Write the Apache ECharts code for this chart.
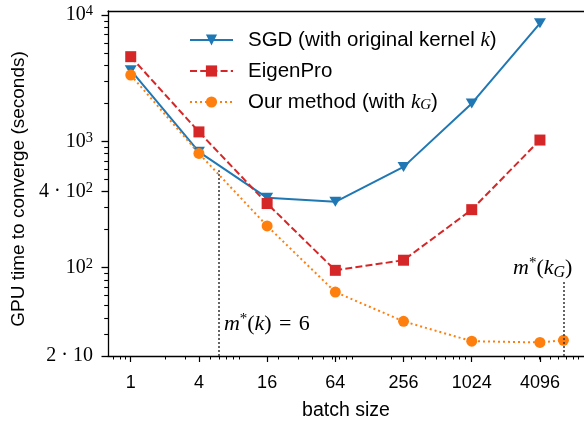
<!DOCTYPE html>
<html><head><meta charset="utf-8">
<script src="https://cdn.jsdelivr.net/npm/echarts@6/dist/echarts.min.js"></script>
<style>html,body{margin:0;padding:0;background:#fff}#c{width:584px;height:423px}</style>
</head><body><div id="c"></div>
<script>
// ---- data ----
const batchSizes = [1, 4, 16, 64, 256, 1024, 4096];
const sgdTimes = [3660, 826, 357, 332, 628, 1995, 8590];
const eigenproTimes = [4680, 1188, 322, 95.3, 114.6, 288, 1024];
const oursBatch = [1, 4, 16, 64, 256, 1024, 4096, 6600];
const oursTimes = [3350, 802, 214, 64.1, 37.6, 26.2, 25.6, 26.6];

const seriesNames = ['SGD', 'EigenPro', 'Ours'];
const legendLabels = ['SGD (with original kernel {k|k})', 'EigenPro', 'Our method (with {k|k}{g|G})'];

const xTickValues = [1, 4, 16, 64, 256, 1024, 4096];
const xTickLabels = ['1', '4', '16', '64', '256', '1024', '4096'];
const xMinorTicks = [0.7, 0.8, 0.9, 2, 3, 5, 6, 7, 8, 9, 20, 30, 40, 50, 60, 70, 80, 90,
  200, 300, 400, 500, 600, 700, 800, 900, 2000, 3000, 4000, 5000, 6000, 7000, 8000, 9000];
const yTickValues = [20, 100, 400, 1000, 10000];
const yTickLabels = ['2 · 10', '10^2', '4 · 10^2', '10^3', '10^4'];
const yMinorTicks = [30, 40, 50, 60, 70, 80, 90, 200, 300, 500, 600, 700, 800, 900,
  2000, 3000, 4000, 5000, 6000, 7000, 8000, 9000];

const mStarK = 6, mStarKTop = 590;       // m*(k) = 6
const mStarKG = 6600, mStarKGTop = 77;   // m*(k_G)
const annotK = [6, 35.5];
const annotKG = [6600, 99];

const X_MIN = 0.63, X_MAX = 10030, Y_MIN = 20, Y_MAX = 10760;

// ---- helpers ----
function zip(xs, ys) { return xs.map((x, i) => [x, ys[i]]); }
function nearestIdx(arr, v) {
  let best = -1, bd = Infinity;
  arr.forEach((a, i) => { const d = Math.abs(Math.log(a) - Math.log(v)); if (d < bd) { bd = d; best = i; } });
  return bd < 1e-3 ? best : -1;
}
function supRich(s) {
  const p = s.split('^');
  return p.length > 1 ? '{b|' + p[0] + '}{s|' + p[1] + '}' : '{b|' + p[0] + '}';
}
const serif = 'Liberation Serif';
const sans = 'Liberation Sans';
const mathRich = {
  m: { fontFamily: serif, fontStyle: 'italic', fontSize: 22, lineHeight: 26, color: '#000' },
  p: { fontFamily: serif, fontSize: 22, lineHeight: 26, color: '#000' },
  st: { fontFamily: serif, fontSize: 15, lineHeight: 15, verticalAlign: 'top', color: '#000' },
  g: { fontFamily: serif, fontStyle: 'italic', fontSize: 16, lineHeight: 16, verticalAlign: 'bottom', color: '#000' }
};

const chart = echarts.init(document.getElementById('c'), null, { renderer: 'canvas' });
const axisCommon = { type: 'log', logBase: 10, min: X_MIN, max: X_MAX };
const option = {
  animation: false,
  backgroundColor: '#fff',
  grid: { left: 108, right: 0, top: 11, bottom: 67, containLabel: false, outerBoundsMode: 'none' },
  legend: {
    data: seriesNames,
    orient: 'vertical', left: 184, top: 24,
    itemWidth: 43, itemHeight: 14, itemGap: 9,
    selectedMode: false,
    textStyle: {
      fontFamily: sans, fontSize: 20.5, color: '#000', lineHeight: 22, padding: [0, 0, 0, 10],
      rich: {
        k: { fontFamily: serif, fontStyle: 'italic', fontSize: 21, lineHeight: 22, color: '#000' },
        g: { fontFamily: serif, fontStyle: 'italic', fontSize: 15, lineHeight: 15, verticalAlign: 'bottom', color: '#000' }
      }
    },
    formatter: name => legendLabels[seriesNames.indexOf(name)]
  },
  xAxis: [
    Object.assign({}, axisCommon, {
      position: 'bottom',
      name: 'batch size', nameLocation: 'middle', nameGap: 45,
      nameTextStyle: { fontFamily: sans, fontSize: 19.5, color: '#000' },
      axisLine: { show: true, lineStyle: { color: '#000', width: 1.3 } },
      axisTick: { show: true, inside: false, customValues: xTickValues, length: 6, lineStyle: { color: '#000', width: 1.2 } },
      axisLabel: {
        customValues: xTickValues, margin: 18,
        fontFamily: sans, fontSize: 18, color: '#000',
        formatter: v => { const i = nearestIdx(xTickValues, v); return i >= 0 ? xTickLabels[i] : ''; }
      },
      splitLine: { show: false }, minorTick: { show: false }
    }),
    Object.assign({}, axisCommon, {
      position: 'bottom',
      axisLine: { show: false },
      axisTick: { show: true, inside: false, customValues: xMinorTicks, length: 3.5, lineStyle: { color: '#000', width: 1 } },
      axisLabel: { show: false }, splitLine: { show: false }
    }),
    Object.assign({}, axisCommon, {
      position: 'top',
      axisLine: { show: true, lineStyle: { color: '#000', width: 1.3 } },
      axisTick: { show: false }, axisLabel: { show: false }, splitLine: { show: false }
    })
  ],
  yAxis: [
    {
      type: 'log', logBase: 10, min: Y_MIN, max: Y_MAX, position: 'left',
      name: 'GPU time to converge (seconds)', nameLocation: 'middle', nameGap: 76,
      nameTextStyle: { fontFamily: sans, fontSize: 19, color: '#000', padding: [0, 11, 0, 0] },
      axisLine: { show: true, lineStyle: { color: '#000', width: 1.3 } },
      axisTick: { show: true, inside: false, customValues: yTickValues, length: 6.5, lineStyle: { color: '#000', width: 1.3 } },
      axisLabel: {
        customValues: yTickValues, margin: 15,
        formatter: v => { const i = nearestIdx(yTickValues, v); return i >= 0 ? supRich(yTickLabels[i]) : ''; },
        rich: {
          b: { fontFamily: serif, fontSize: 20, lineHeight: 22, color: '#000' },
          s: { fontFamily: serif, fontSize: 14.5, lineHeight: 14, verticalAlign: 'top', color: '#000' }
        }
      },
      splitLine: { show: false }
    },
    {
      type: 'log', logBase: 10, min: Y_MIN, max: Y_MAX, position: 'left',
      axisLine: { show: false },
      axisTick: { show: true, inside: false, customValues: yMinorTicks, length: 3.8, lineStyle: { color: '#000', width: 1.1 } },
      axisLabel: { show: false }, splitLine: { show: false }
    }
  ],
  series: [
    {
      name: 'SGD', type: 'line', data: zip(batchSizes, sgdTimes),
      symbol: 'triangle', symbolRotate: 180, symbolSize: [12, 10],
      lineStyle: { color: '#1f77b4', width: 2 }, itemStyle: { color: '#1f77b4' },
      emphasis: { disabled: true }, clip: false, z: 2
    },
    {
      name: 'EigenPro', type: 'line', data: zip(batchSizes, eigenproTimes),
      symbol: 'rect', symbolSize: 11,
      lineStyle: { color: '#d62728', width: 2, type: [7, 3.2] }, itemStyle: { color: '#d62728' },
      emphasis: { disabled: true }, clip: false, z: 3
    },
    {
      name: 'Ours', type: 'line', data: zip(oursBatch, oursTimes),
      symbol: 'circle', symbolSize: 11,
      lineStyle: { color: '#ff7f0e', width: 2, type: [2, 3] }, itemStyle: { color: '#ff7f0e' },
      emphasis: { disabled: true }, clip: false, z: 4,
      markLine: {
        silent: true, symbol: 'none', animation: false,
        lineStyle: { color: '#333', width: 1.5, type: [2, 2] },
        label: { show: false },
        emphasis: { disabled: true },
        data: [
          [{ coord: [mStarK, Y_MIN] }, { coord: [mStarK, mStarKTop] }],
          [{ coord: [mStarKG, Y_MIN] }, { coord: [mStarKG, mStarKGTop] }]
        ]
      },
      markPoint: {
        silent: true, symbol: 'circle', symbolSize: 0, animation: false,
        data: [
          { coord: annotK, label: { show: true, position: 'right', distance: 5,
              formatter: '{m|m}{st|*}{p|(}{m|k}{p|)\u2004=\u20046}', rich: mathRich } },
          { coord: annotKG, label: { show: true, position: 'left', distance: -9,
              formatter: '{m|m}{st|*}{p|(}{m|k}{g|G}{p|)}', rich: mathRich } }
        ]
      }
    }
  ]
};
chart.setOption(option);
</script>
</body></html>
